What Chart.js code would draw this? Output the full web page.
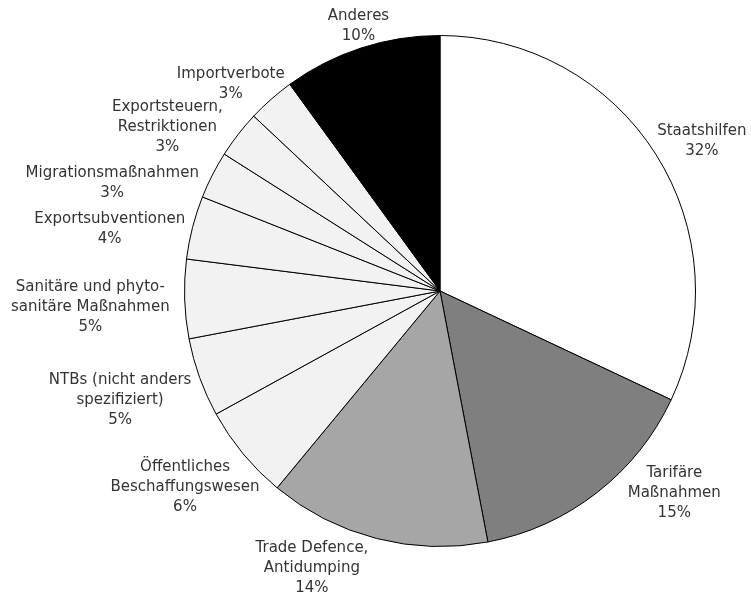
<!DOCTYPE html>
<html>
<head>
<meta charset="utf-8">
<script src="https://cdn.jsdelivr.net/npm/chart.js@4"></script>
<style>
  html, body { margin: 0; padding: 0; background: #fff; }
  canvas { display: block; }
</style>
</head>
<body>
<canvas id="pieChart" width="751" height="592"></canvas>
<script>
// Kategorien (mehrzeilige Beschriftungen wie im Original)
const categories = [
    ['Staatshilfen'],
    ['Tarifäre', 'Maßnahmen'],
    ['Trade Defence,', 'Antidumping'],
    ['Öffentliches', 'Beschaffungswesen'],
    ['NTBs (nicht anders', 'spezifiziert)'],
    ['Sanitäre und phyto-', 'sanitäre Maßnahmen'],
    ['Exportsubventionen'],
    ['Migrationsmaßnahmen'],
    ['Exportsteuern,', 'Restriktionen'],
    ['Importverbote'],
    ['Anderes']
];

// Anteile in Prozent
const shares = [32, 15, 14, 6, 5, 5, 4, 3, 3, 3, 10];

const sliceColors = ['#ffffff', '#7f7f7f', '#a6a6a6', '#f2f2f2', '#f2f2f2', '#f2f2f2',
                     '#f2f2f2', '#f2f2f2', '#f2f2f2', '#f2f2f2', '#000000'];

// kleine Verschiebungen einzelner Beschriftungen (dx, dy)
const labelNudge = [[0, 3], [43, -31], [-48, -9], [7, 8], [-3, 9], [-5, 7],
                    [0, 9], [-14, 22], [-19, 17], [2, 7], [10, 7]];

const labelFont = '15px "DejaVu Sans"';
const lineHeight = 20;

// Beschriftungen außerhalb der Segmente zeichnen
const outsideLabels = {
    id: 'outsideLabels',
    afterDraw(chart) {
        const ctx = chart.ctx;
        const meta = chart.getDatasetMeta(0);
        const values = chart.data.datasets[0].data;
        ctx.save();
        ctx.font = labelFont;
        ctx.fillStyle = '#333333';
        ctx.textAlign = 'center';
        ctx.textBaseline = 'middle';
        meta.data.forEach((arc, i) => {
            const p = arc.getProps(['x', 'y', 'startAngle', 'endAngle', 'outerRadius'], true);
            const mid = (p.startAngle + p.endAngle) / 2;
            const dx = Math.cos(mid), dy = Math.sin(mid);
            const lines = categories[i].concat([values[i] + '%']);
            const w = Math.max(...lines.map(l => ctx.measureText(l).width));
            const h = lines.length * lineHeight;
            const gap = 10;
            const cx = p.x + dx * (p.outerRadius + gap) + dx * w / 2 + labelNudge[i][0];
            const cy = p.y + dy * (p.outerRadius + gap) + dy * h / 2 + labelNudge[i][1];
            lines.forEach((l, k) => {
                ctx.fillText(l, cx, cy - h / 2 + lineHeight * (k + 0.5));
            });
        });
        ctx.restore();
    }
};

const ctx = document.getElementById('pieChart').getContext('2d');
new Chart(ctx, {
    type: 'pie',
    data: {
        labels: categories,
        datasets: [{
            data: shares,
            backgroundColor: sliceColors,
            borderColor: '#000000',
            borderWidth: 1
        }]
    },
    options: {
        responsive: false,
        animation: false,
        layout: { padding: { left: 184, right: 55, top: 35, bottom: 45 } },
        plugins: {
            legend: { display: false },
            tooltip: { enabled: false }
        }
    },
    plugins: [outsideLabels]
});
</script>
</body>
</html>
